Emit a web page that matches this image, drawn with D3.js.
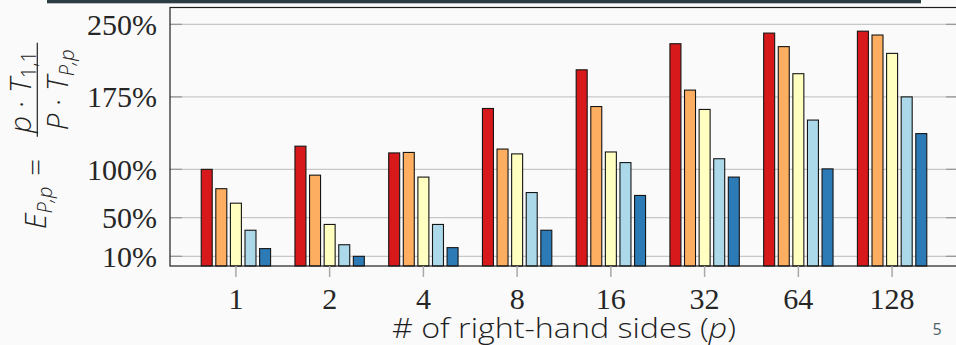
<!DOCTYPE html>
<head>
    <meta charset="UTF-8" />
    <style>
        body {
            margin: 0;
            padding: 0;
            background: #fafafa;
        }

        .grid {
            stroke: #c8c8c8;
            stroke-width: 1.3px;
        }

        .tick-in {
            stroke: #9a9a9a;
            stroke-width: 1.3px;
        }

        .num {
            font-family: "Liberation Serif", serif;
            font-size: 30px;
            fill: #262626;
        }

        .math {
            font-family: "Open Sans", sans-serif;
            font-weight: 300;
            font-size: 30px;
            fill: #222;
        }
    </style>
    <title>Efficiency</title>
</head>

<svg width="956" height="345"></svg>
<script src="https://d3js.org/d3.v7.min.js"></script>

<script>
    // right-hand side counts on the x axis
    const categories = ["1", "2", "4", "8", "16", "32", "64", "128"]

    // one series per bar colour (red -> blue), efficiency in %
    const redValues = [100, 124, 117, 163, 203, 230, 241, 243]
    const orangeValues = [80, 94, 117.5, 121, 165, 182, 227, 239]
    const yellowValues = [65, 43, 92, 116, 118, 162, 199, 220]
    const lightBlueValues = [37, 22, 43, 76, 107, 111, 151, 175]
    const blueValues = [18, 10, 19, 37, 73, 92, 100.5, 137]

    const yTicks = [10, 50, 100, 175, 250]

    const series = [redValues, orangeValues, yellowValues, lightBlueValues, blueValues]
    const colors = ["#d7191c", "#fdae61", "#ffffbf", "#abd9e9", "#2c7bb6"]

    const svg = d3.select("svg")

    const plotLeft = 170, plotRight = 958, plotTop = 7.5, plotBottom = 266

    const x0 = d3.scaleBand()
        .domain(categories)
        .range([plotLeft, plotRight])
        .paddingInner(0.26)
        .paddingOuter(0.333)

    const x1 = d3.scaleBand()
        .domain(d3.range(series.length))
        .range([0, x0.bandwidth()])
        .paddingInner(0.247)

    const y = d3.scaleLinear()
        .domain([0, 250])
        .range([plotBottom, 24.4])

    // slide header strip
    svg.append("rect")
        .attr("x", 47).attr("y", -2)
        .attr("width", 874).attr("height", 5.3)
        .attr("fill", "#2a3d43")

    // grid lines + inward ticks on both sides
    const grid = svg.append("g")
    yTicks.forEach(t => {
        grid.append("line").attr("class", "grid")
            .attr("x1", plotLeft).attr("x2", plotRight)
            .attr("y1", y(t)).attr("y2", y(t))
        grid.append("line").attr("class", "tick-in")
            .attr("x1", plotLeft).attr("x2", plotLeft + 12)
            .attr("y1", y(t)).attr("y2", y(t))
        grid.append("line").attr("class", "tick-in")
            .attr("x1", plotRight - 12).attr("x2", plotRight)
            .attr("y1", y(t)).attr("y2", y(t))
    })

    // y tick labels
    svg.append("g").selectAll("text")
        .data(yTicks)
        .enter().append("text")
        .attr("class", "num")
        .attr("x", 157)
        .attr("y", d => y(d) + 10.5)
        .attr("text-anchor", "end")
        .text(d => d + "%")

    // bars
    const rows = categories.map((c, i) => ({ cat: c, values: series.map(s => s[i]) }))

    const group = svg.append("g").selectAll("g")
        .data(rows)
        .enter().append("g")
        .attr("transform", d => `translate(${x0(d.cat)},0)`)

    group.selectAll("rect")
        .data(d => d.values.map((v, k) => ({ k, v })))
        .enter().append("rect")
        .attr("x", d => x1(d.k))
        .attr("y", d => y(d.v))
        .attr("width", x1.bandwidth())
        .attr("height", d => y(0) - y(d.v))
        .attr("fill", d => colors[d.k])
        .attr("stroke", "#151515")
        .attr("stroke-width", 1.1)

    // frame
    svg.append("rect")
        .attr("x", plotLeft).attr("y", plotTop)
        .attr("width", plotRight - plotLeft).attr("height", plotBottom - plotTop)
        .attr("fill", "none")
        .attr("stroke", "#1e1e1e")
        .attr("stroke-width", 1.2)

    // x ticks (outside, below the frame) and labels
    const xAxis = svg.append("g")
    categories.forEach(c => {
        const cx = x0(c) + x0.bandwidth() / 2
        xAxis.append("line")
            .attr("x1", cx).attr("x2", cx)
            .attr("y1", plotBottom).attr("y2", plotBottom + 11)
            .attr("stroke", "#a8a8a8")
            .attr("stroke-width", 1.5)
        xAxis.append("text")
            .attr("class", "num")
            .attr("x", cx).attr("y", 309)
            .attr("text-anchor", "middle")
            .text(c)
    })

    // x axis title (stretched to the width of the original)
    const xt = svg.append("text")
        .attr("x", (plotLeft + plotRight) / 2).attr("y", 338)
        .attr("text-anchor", "middle")
        .attr("font-family", "'Open Sans', sans-serif")
        .attr("font-weight", 300)
        .attr("font-size", 27)
        .attr("textLength", 344)
        .attr("lengthAdjust", "spacingAndGlyphs")
        .attr("fill", "#1e1e1e")
    xt.append("tspan").text("# of right-hand sides (")
    xt.append("tspan").attr("font-style", "italic").text("p")
    xt.append("tspan").text(")")

    // page number
    svg.append("text")
        .attr("x", 937).attr("y", 335)
        .attr("text-anchor", "middle")
        .attr("font-family", "'Open Sans', sans-serif")
        .attr("font-size", 16)
        .attr("fill", "#4f6268")
        .text("5")

    // y label: E_{P,p} = p·T_{1,1} / P·T_{P,p}, rotated
    const yl = svg.append("g")
        .attr("transform", "translate(46,138) rotate(-90)")

    const e = yl.append("text").attr("class", "math")
        .attr("x", -48.5).attr("y", 0)
        .attr("text-anchor", "end")
    e.append("tspan").attr("font-style", "italic").text("E")
    e.append("tspan").attr("font-style", "italic").attr("font-size", 20).attr("dy", 6).text("P,p")

    yl.append("text").attr("class", "math")
        .attr("x", -29.5).attr("y", 0)
        .attr("text-anchor", "middle")
        .attr("font-size", 34)
        .text("=")

    yl.append("line")
        .attr("x1", 1.3).attr("x2", 95.3)
        .attr("y1", -8.7).attr("y2", -8.7)
        .attr("stroke", "#222")
        .attr("stroke-width", 1.2)

    const num = yl.append("text").attr("class", "math")
        .attr("x", 46).attr("y", -15)
        .attr("text-anchor", "middle")
    num.append("tspan").attr("font-style", "italic").text("p")
    num.append("tspan").text(" · ")
    num.append("tspan").attr("font-style", "italic").text("T")
    num.append("tspan").attr("font-size", 20).attr("dy", 5).text("1,1")

    const den = yl.append("text").attr("class", "math")
        .attr("x", 48).attr("y", 22)
        .attr("text-anchor", "middle")
    den.append("tspan").attr("font-style", "italic").text("P")
    den.append("tspan").text(" · ")
    den.append("tspan").attr("font-style", "italic").text("T")
    den.append("tspan").attr("font-style", "italic").attr("font-size", 20).attr("dy", 6).text("P,p")
</script>
